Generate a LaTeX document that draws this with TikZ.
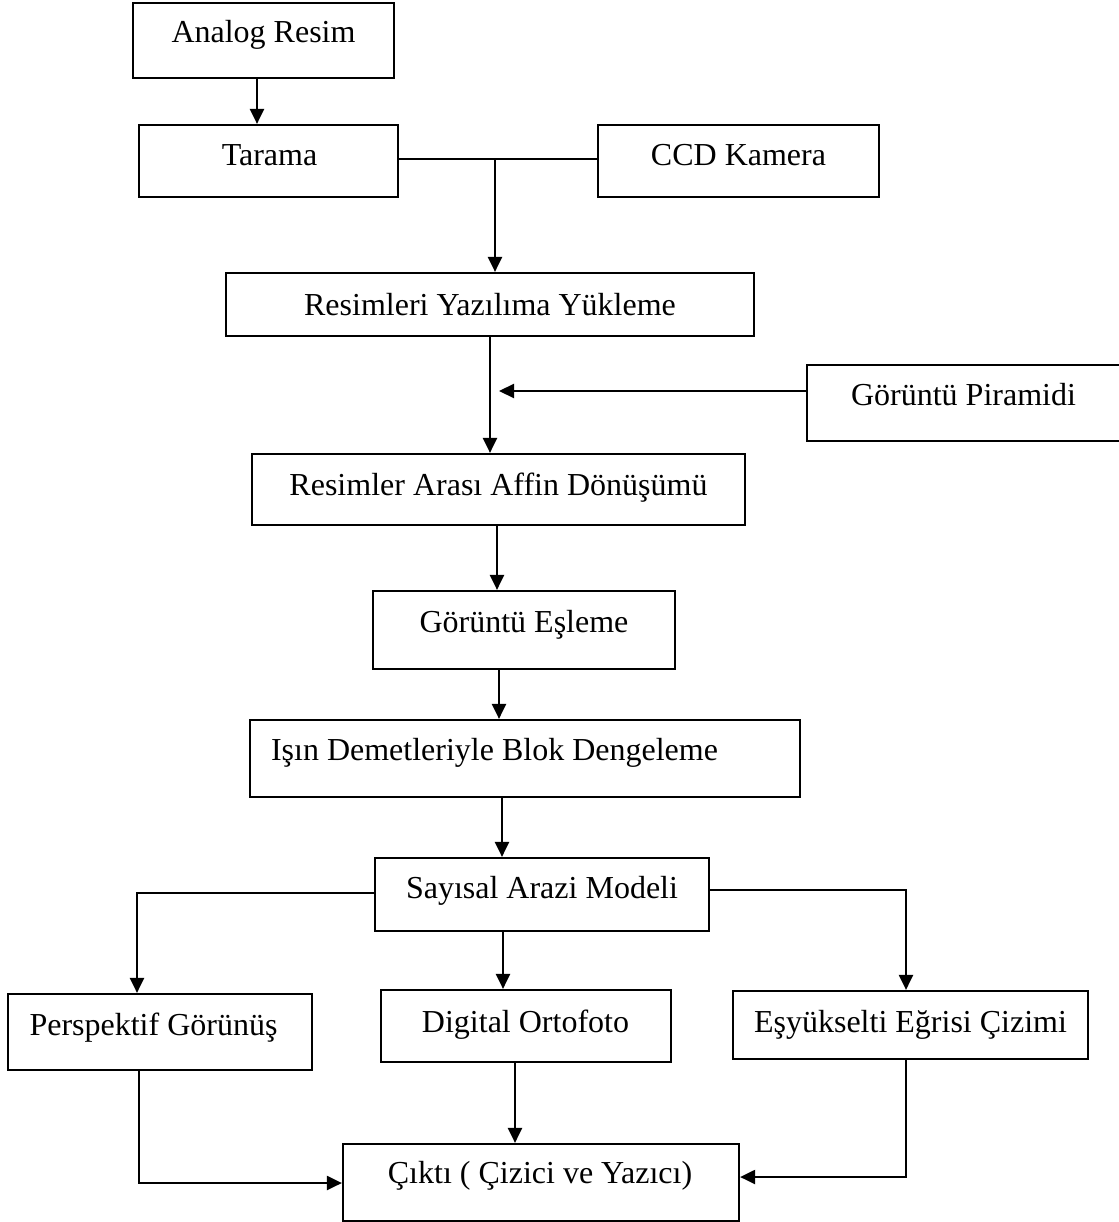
\documentclass[tikz,border=0pt]{standalone}
\usepackage{fontspec}
\setmainfont{Liberation Serif}
\usetikzlibrary{arrows.meta}
\tikzset{
  box/.style={draw=black, line width=2.2pt, inner sep=0pt, fill=white},
  txt/.style={anchor=base, inner sep=0pt, font=\fontsize{32}{38}\selectfont},
  link/.style={line width=2.2pt},
  arr/.style={line width=2.2pt, -{Triangle[length=15pt,width=14pt]}},
}
\newcommand\mybox[8]{%
  \node[box, minimum width={#4-#2}, minimum height={#5-#3}] (#1) at ({(#2+#4)/2},{(#3+#5)/2}) {};
  \node[txt] (#1-t) at (#6,#7) {#8};
}
\begin{document}
\begin{tikzpicture}[x=1pt,y=-1pt]
\useasboundingbox (0,0) rectangle (1118,1222);
\fill[white] (0,0) rectangle (1118,1222);

\mybox{analog}{133}{3}{394}{78}{263.5}{43}{Analog Resim}
\mybox{tarama}{139}{125}{398}{197}{269.5}{166}{Tarama}
\mybox{ccd}{598}{125}{879}{197}{738.5}{166}{CCD Kamera}
\mybox{yukle}{226}{273}{754}{336}{490}{315}{Resimleri Yazılıma Yükleme}
\mybox{piramit}{807}{365}{1130}{441}{963.5}{405}{Görüntü Piramidi}
\mybox{affin}{252}{454}{745}{525}{498.5}{495}{Resimler Arası Affin Dönüşümü}
\mybox{esleme}{373}{591}{675}{669}{524}{632}{Görüntü Eşleme}
\mybox{isin}{250}{720}{800}{797}{494.5}{760}{Işın Demetleriyle Blok Dengeleme}
\mybox{sam}{375}{858}{709}{931}{542}{898}{Sayısal Arazi Modeli}
\mybox{persp}{8}{994}{312}{1070}{153.5}{1035}{Perspektif Görünüş}
\mybox{orto}{381}{990}{671}{1062}{525.5}{1032}{Digital Ortofoto}
\mybox{esyuk}{733}{991}{1088}{1059}{910.5}{1032}{Eşyükselti Eğrisi Çizimi}
\mybox{cikti}{343}{1144}{739}{1221}{540}{1183}{Çıktı ( Çizici ve Yazıcı)}

\coordinate (j1) at (495,159);
\coordinate (pin) at (499,391);

% connectors
\draw[arr] (257,0 |- analog.south) -- (257,0 |- tarama.north);
\draw[link] (tarama.east |- j1) -- (ccd.west |- j1);
\draw[arr] (j1) -- (j1 |- yukle.north);
\draw[arr] (490,0 |- yukle.south) -- (490,0 |- affin.north);
\draw[arr] (piramit.west |- pin) -- (pin);
\draw[arr] (497,0 |- affin.south) -- (497,0 |- esleme.north);
\draw[arr] (499,0 |- esleme.south) -- (499,0 |- isin.north);
\draw[arr] (502,0 |- isin.south) -- (502,0 |- sam.north);
\draw[arr] (sam.west |- 0,893) -- (137,893) -- (137,0 |- persp.north);
\draw[arr] (503,0 |- sam.south) -- (503,0 |- orto.north);
\draw[arr] (sam.east |- 0,890) -- (906,890) -- (906,0 |- esyuk.north);
\draw[arr] (139,0 |- persp.south) -- (139,1183) -- (cikti.west |- 0,1183);
\draw[arr] (515,0 |- orto.south) -- (515,0 |- cikti.north);
\draw[arr] (906,0 |- esyuk.south) -- (906,1177) -- (cikti.east |- 0,1177);
\end{tikzpicture}
\end{document}
